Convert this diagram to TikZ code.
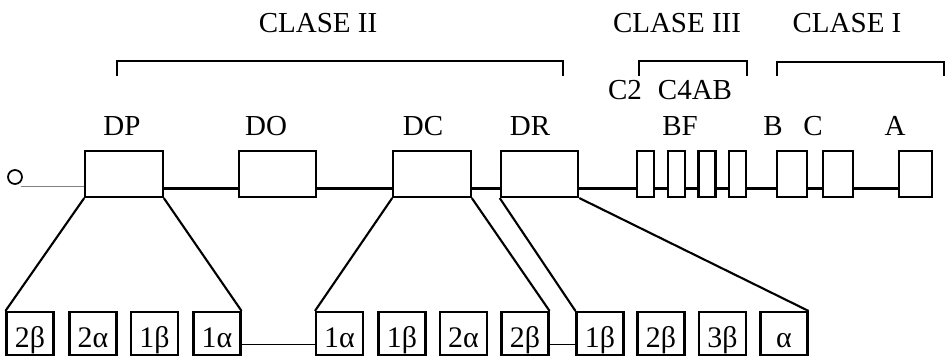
\documentclass[tikz,border=0pt]{standalone}
\usepackage{fontspec}
\setmainfont{Liberation Serif}
\usepackage{tikz}

\begin{document}
\begin{tikzpicture}[x=0.02cm,y=0.02cm,
    box/.style={draw,line width=1.2pt,fill=white,inner sep=0pt,minimum height=0.92cm},
    dom/.style={box,minimum width=1.55cm},
    exon/.style={box,minimum width=#1},
    cad/.style={box,minimum width=0.94cm,minimum height=0.86cm,text height=0.54cm,text depth=0pt,font=\fontsize{17}{20}\selectfont},
    lbl/.style={anchor=base,inner sep=0pt,font=\fontsize{16.5}{19}\selectfont}]
    \useasboundingbox (0,0) rectangle (945,362);
    % brackets
    \draw[line width=0.9pt] (117,286) -- (117,301) -- (563,301) -- (563,286);
    \draw[line width=0.9pt] (639,286) -- (639,301) -- (747,301) -- (747,286);
    \draw[line width=0.9pt] (777,286) -- (777,300) -- (944,300) -- (944,286);
    \node[lbl] (c2) at (318,329) {CLASE II};
    \node[lbl] (c3) at (677,329) {CLASE III};
    \node[lbl] (c1) at (847,329) {CLASE I};
    \node[lbl] (lc2) at (625,262) {C2};
    \node[lbl] (lc4) at (695,262) {C4AB};
    % region labels
    \node[lbl] (lDP) at (122,227) {DP};
    \node[lbl] (lDO) at (266,227) {DO};
    \node[lbl] (lDC) at (423,227) {DC};
    \node[lbl] (lDR) at (530,227) {DR};
    \node[lbl] (lBF) at (680,227) {BF};
    \node[lbl] (lB) at (773,227) {B};
    \node[lbl] (lC) at (813,227) {C};
    \node[lbl] (lA) at (895,227) {A};
    % chromosome
    \node[circle,draw,line width=1pt,inner sep=0pt,minimum size=0.28cm] (o) at (15,185) {};
    \node[dom] (DP) at (124,188) {};
    \node[dom] (DO) at (277.5,188) {};
    \node[dom] (DC) at (432,188) {};
    \node[dom] (DR) at (539.5,188) {};
    \node[exon=0.34cm] (bf1) at (645.5,188) {};
    \node[exon=0.34cm] (bf2) at (676.5,188) {};
    \node[exon=0.34cm] (bf3) at (707,188) {};
    \node[exon=0.34cm] (bf4) at (737.5,188) {};
    \node[exon=0.6cm] (B) at (792,188) {};
    \node[exon=0.6cm] (C) at (838,188) {};
    \node[exon=0.66cm] (A) at (915.5,188) {};
    \draw[gray,line width=0.6pt] ([yshift=-0.07cm]o.south east) -- ([yshift=-0.07cm]o.south east -| DP.west);
    \foreach \a/\b in {DP/DO,DO/DC,DC/DR,DR/bf1,bf1/bf2,bf2/bf3,bf3/bf4,bf4/B,B/C,C/A}
      \draw[line width=1.2pt] ([yshift=-0.29cm]\a.east) -- ([yshift=-0.29cm]\b.west);
    % chains
    \node[cad] (p2b) at (30,28.5) {2β};
    \node[cad] (p2a) at (93,28.5) {2α};
    \node[cad] (p1b) at (154.5,28.5) {1β};
    \node[cad] (p1a) at (217,28.5) {1α};
    \node[cad] (c1a) at (339.5,28.5) {1α};
    \node[cad] (c1b) at (402,28.5) {1β};
    \node[cad] (c2a) at (463.5,28.5) {2α};
    \node[cad] (c2b) at (525,28.5) {2β};
    \node[cad] (r1b) at (600,28.5) {1β};
    \node[cad] (r2b) at (661,28.5) {2β};
    \node[cad] (r3b) at (722.5,28.5) {3β};
    \node[cad] (ra) at (784,28.5) {α};
    \draw[line width=0.7pt] ([yshift=-0.22cm]p1a.east) -- ([yshift=-0.22cm]c1a.west);
    \draw[line width=0.7pt] ([yshift=-0.22cm]c2b.east) -- ([yshift=-0.22cm]r1b.west);
    \draw[line width=1.2pt] (DP.south west) -- (p2b.north west);
    \draw[line width=1.2pt] (DP.south east) -- (p1a.north east);
    \draw[line width=1.2pt] (DC.south west) -- (c1a.north west);
    \draw[line width=1.2pt] (DC.south east) -- (c2b.north east);
    \draw[line width=1.2pt] (DR.south west) -- (r1b.north west);
    \draw[line width=1.2pt] (DR.south east) -- (ra.north east);
  \end{tikzpicture}
\end{document}
